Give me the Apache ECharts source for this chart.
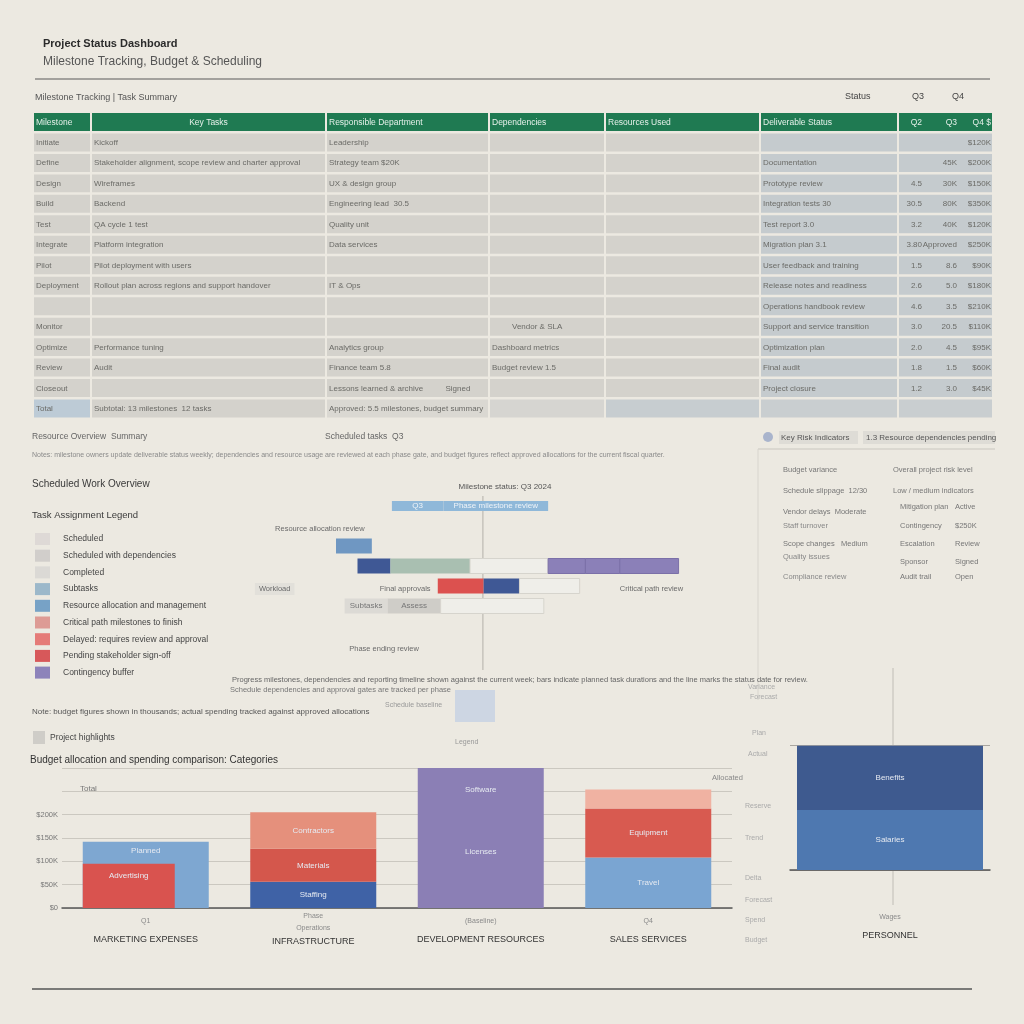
<!DOCTYPE html>
<html><head><meta charset="utf-8">
<script src="https://cdn.jsdelivr.net/npm/echarts@6/dist/echarts.min.js"></script>
<style>html,body{margin:0;padding:0;background:#ece9e1;}#c{width:1024px;height:1024px;}</style>
</head><body><div id="c"></div>
<script>
const FONT = '"Liberation Sans Narrow","Liberation Sans",Arial,sans-serif';

// ---------- TABLE DATA ----------
const tableHeader = ['Milestone','Key Tasks','Responsible Department','Dependencies','Resources Used','Deliverable Status','Q2','Q3','Q4 $'];
const tableRows = [
  ['Initiate','Kickoff','Leadership','','','','','','$120K'],
  ['Define','Stakeholder alignment, scope review and charter approval','Strategy team $20K','','','Documentation','','45K','$200K'],
  ['Design','Wireframes','UX & design group','','','Prototype review','4.5','30K','$150K'],
  ['Build','Backend','Engineering lead  30.5','','','Integration tests 30','30.5','80K','$350K'],
  ['Test','QA cycle 1 test','Quality unit','','','Test report 3.0','3.2','40K','$120K'],
  ['Integrate','Platform integration','Data services','','','Migration plan 3.1','3.80','Approved','$250K'],
  ['Pilot','Pilot deployment with users','','','','User feedback and training','1.5','8.6','$90K'],
  ['Deployment','Rollout plan across regions and support handover','IT & Ops','','','Release notes and readiness','2.6','5.0','$180K'],
  ['','','','','','Operations handbook review','4.6','3.5','$210K'],
  ['Monitor','','','         Vendor & SLA','','Support and service transition','3.0','20.5','$110K'],
  ['Optimize','Performance tuning','Analytics group','Dashboard metrics','','Optimization plan','2.0','4.5','$95K'],
  ['Review','Audit','Finance team 5.8','Budget review 1.5','','Final audit','1.8','1.5','$60K'],
  ['Closeout','','Lessons learned & archive          Signed','','','Project closure','1.2','3.0','$45K'],
  ['Total','Subtotal: 13 milestones  12 tasks','Approved: 5.5 milestones, budget summary','','','','','','']
];

// ---------- GANTT DATA ----------
const ganttRowNames = ['Milestone','Resource','Planning','Execution','Approvals','Subtasks','','Phase end',''];
const ganttStart = [3.9, 7.5, 0, 1.5, 3.8, 9.35, 14.8, 17.4, 19.8, 7.1, 10.3, 12.8, 0.6, 3.6, 7.3];
const ganttEnd   = [7.5, 14.8, 2.5, 3.8, 9.35, 14.8, 17.4, 19.8, 23.9, 10.3, 12.8, 17.0, 3.6, 7.3, 14.5];
const ganttRow   = [0, 0, 2, 3, 3, 3, 3, 3, 3, 4, 4, 4, 5, 5, 5];
const ganttKind  = ['light','light','blue','navy','sage','open','purple','purple','purple','red','navy','open','pale','gray','open'];
const ganttLabel = ['Q3','Phase milestone review','','','','','','','','','','','Subtasks','Assess',''];
const statusWeek = 10.25;
const annoWeek  = [2.0, -2.9, 6.6, 19.8, 3.35];
const annoRow   = [1, 4, 4, 4, 7];
const annoText  = ['Resource allocation review','Workload','Final approvals','Critical path review','Phase ending review'];
const annoAlign = ['right','right','right','left','center'];

// ---------- LEGEND ----------
const legendNames = ['Scheduled','Scheduled with dependencies','Completed','Subtasks','Resource allocation and management','Critical path milestones to finish','Delayed: requires review and approval','Pending stakeholder sign-off','Contingency buffer'];
const legendColors = ['#ded9d6','#d1cecb','#dbd9d5','#9cb8ca','#77a2c6','#dd9b95','#e57b78','#d7585a','#8d83ba'];

// ---------- BUDGET DATA ($K) ----------
const budgetCategories = ['MARKETING EXPENSES','INFRASTRUCTURE','DEVELOPMENT RESOURCES','SALES SERVICES'];
const budgetCatNotes = ['Q1','Phase\nOperations','(Baseline)','Q4'];
const budgetTicks = ['$0','$50K','$100K','$150K','$200K'];
const actualValues = [95, '-', '-', '-'];
const baseValues   = [142, 56, 300, 108];
const midValues    = ['-', 71, '-', 105];
const topValues    = ['-', 78, '-', 41];
const actualLabels = ['Advertising'];
const baseLabels   = ['Planned','Staffing','Software\nLicenses','Travel'];
const midLabels    = ['','Materials','','Equipment'];
const topLabels    = ['','Contractors','',''];
const personnelCat = ['PERSONNEL'];
const personnelNote = ['Wages'];
const salariesValues = [144];
const benefitsValues = [154];

// ---------- COLORS / LAYOUT ----------
const kindColor = {light:'#8fb8d9',blue:'#6f97c2',navy:'#3f5895',sage:'#a9bfb1',open:'#efeee9',purple:'#8b80b8',red:'#dc514f',pale:'#dcdad5',gray:'#cfcdc8'};
const baseColors = ['#7ea7d1','#3f62a6','#8b7fb5','#7aa5d2'];
const midColors  = ['#d9534f','#d4574c','#d9534f','#d85a50'];
const topColors  = ['#e5907c','#e5907c','#e5907c','#f0b2a2'];
const colEdges = [0, 58, 293, 456, 572, 727, 865, 960];
const qAnchors = [889, 924, 958];
const footerFills = ['#bdcbd6','#d4d2cc','#dad8d2','#d6d5d1','#c7cdd0','#c9ced0','#c9ced0'];

// build table cells
const allRows = [tableHeader].concat(tableRows);
const cells = [];
allRows.forEach((row, r) => {
  for (let c = 0; c < 7; c++) {
    let fill = r === 0 ? '#1f7a52' : (r === allRows.length - 1 ? footerFills[c] : (c >= 5 ? '#c5cbce' : '#d4d2cc'));
    const texts = [];
    if (c < 6) {
      if (row[c]) {
        if (r === 0 && c === 1) texts.push({s: row[c], at: (colEdges[1] + colEdges[2]) / 2, align: 'center', w: 0});
        else texts.push({s: row[c], at: colEdges[c] + 3, align: 'left', w: colEdges[c + 1] - colEdges[c] - 6});
      }
    } else {
      for (let q = 0; q < 3; q++) if (row[6 + q]) texts.push({s: row[6 + q], at: qAnchors[q], align: 'right', w: 0});
    }
    cells.push({r, c, x0: colEdges[c], x1: colEdges[c + 1], fill, texts});
  }
});

const chart = echarts.init(document.getElementById('c'), null, {renderer: 'canvas'});

const T = (x, y, s, size, color, weight, align) => ({type:'text', x, y, silent:true,
  style:{text:s, font:`${weight||'normal'} ${size}px ${FONT}`, fill:color, align:align||'left', verticalAlign:'middle'}});
const L = (x1, y1, x2, y2, color, w) => ({type:'line', silent:true, shape:{x1,y1,x2,y2}, style:{stroke:color, lineWidth:w||1}});

const graphics = [
  L(35, 79, 990, 79, '#5a5a5a', 1.2),
  L(32, 989, 972, 989, '#555', 1.5),
  L(758, 449, 995, 449, '#c9c6bf', 1),
  L(758, 449, 758, 700, '#d8d5ce', 1),
  L(893, 668, 893, 905, '#c0bdb6', 1),
  T(43, 44, 'Project Status Dashboard', 11, '#2b2b2b', 'bold'),
  T(43, 62, 'Milestone Tracking, Budget & Scheduling', 12, '#555'),
  T(35, 98, 'Milestone Tracking | Task Summary', 9, '#555'),
  T(845, 97, 'Status', 9, '#444'), T(912, 97, 'Q3', 9, '#444'), T(952, 97, 'Q4', 9, '#444'),
  T(32, 437, 'Resource Overview  Summary', 8.5, '#666'),
  T(325, 437, 'Scheduled tasks  Q3', 8.5, '#666'),
  T(32, 455, 'Notes: milestone owners update deliverable status weekly; dependencies and resource usage are reviewed at each phase gate, and budget figures reflect approved allocations for the current fiscal quarter.', 7, '#8a8a8a'),
  T(32, 484, 'Scheduled Work Overview', 10, '#3a3a3a'),
  T(32, 515, 'Task Assignment Legend', 9.5, '#3a3a3a'),
  T(505, 487, 'Milestone status: Q3 2024', 8, '#555', 'normal', 'center'),
  T(232, 680, 'Progress milestones, dependencies and reporting timeline shown against the current week; bars indicate planned task durations and the line marks the status date for review.', 7.5, '#666'),
  T(230, 690, 'Schedule dependencies and approval gates are tracked per phase', 7.5, '#777'),
  T(385, 705, 'Schedule baseline', 7, '#999'),
  {type:'rect', silent:true, shape:{x:455, y:690, width:40, height:32}, style:{fill:'#cdd6e3'}},
  T(455, 742, 'Legend', 7, '#999'),
  T(32, 712, 'Note: budget figures shown in thousands; actual spending tracked against approved allocations', 8, '#555'),
  {type:'rect', silent:true, shape:{x:33, y:731, width:12, height:13}, style:{fill:'#cfcdc8'}},
  T(50, 738, 'Project highlights', 8.5, '#444'),
  T(30, 760, 'Budget allocation and spending comparison: Categories', 10, '#333'),
  T(80, 789, 'Total', 8, '#777'),
  T(712, 778, 'Allocated', 7.5, '#888'),
  // right panel
  {type:'circle', silent:true, shape:{cx:768, cy:437, r:5}, style:{fill:'#a9b4cc'}},
  {type:'rect', silent:true, shape:{x:779, y:431, width:79, height:13}, style:{fill:'#dedcd6'}},
  T(781, 438, 'Key Risk Indicators', 8, '#555'),
  {type:'rect', silent:true, shape:{x:863, y:431, width:132, height:13}, style:{fill:'#dedcd6'}},
  T(866, 438, '1.3 Resource dependencies pending', 8, '#555'),
  T(783, 470, 'Budget variance', 7.5, '#777'), T(893, 470, 'Overall project risk level', 7.5, '#777'),
  T(783, 491, 'Schedule slippage  12/30', 7.5, '#777'), T(893, 491, 'Low / medium indicators', 7.5, '#777'),
  T(783, 512, 'Vendor delays  Moderate', 7.5, '#777'), T(900, 507, 'Mitigation plan', 7.5, '#777'), T(955, 507, 'Active', 7.5, '#777'),
  T(783, 526, 'Staff turnover', 7.5, '#888'), T(900, 526, 'Contingency', 7.5, '#777'), T(955, 526, '$250K', 7.5, '#777'),
  T(783, 544, 'Scope changes   Medium', 7.5, '#777'), T(900, 544, 'Escalation', 7.5, '#777'), T(955, 544, 'Review', 7.5, '#777'),
  T(783, 557, 'Quality issues', 7.5, '#888'), T(900, 562, 'Sponsor', 7.5, '#777'), T(955, 562, 'Signed', 7.5, '#777'),
  T(783, 577, 'Compliance review', 7.5, '#888'), T(900, 577, 'Audit trail', 7.5, '#777'), T(955, 577, 'Open', 7.5, '#777'),
  // faded side notes
  T(748, 687, 'Variance', 7, '#aaa'), T(750, 697, 'Forecast', 7, '#aaa'),
  T(752, 733, 'Plan', 7, '#aaa'), T(748, 754, 'Actual', 7, '#aaa'),
  T(745, 806, 'Reserve', 7, '#aaa'), T(745, 838, 'Trend', 7, '#aaa'),
  T(745, 878, 'Delta', 7, '#aaa'), T(745, 900, 'Forecast', 7, '#aaa'), T(745, 920, 'Spend', 7, '#aaa'), T(745, 940, 'Budget', 7, '#aaa')
];
legendNames.forEach((n, i) => {
  const y = 539 + i * 16.7;
  graphics.push({type:'rect', silent:true, shape:{x:35, y:y-6, width:15, height:12}, style:{fill:legendColors[i]}});
  graphics.push(T(63, y, n, 8.5, '#444'));
});

const catLabelRich = {
  s: {fontSize: 7, color: '#8a8a8a', lineHeight: 12, fontFamily: FONT},
  S: {fontSize: 7, color: '#8a8a8a', lineHeight: 22, fontFamily: FONT},
  m: {fontSize: 9, color: '#333', lineHeight: 16, fontFamily: FONT}
};
const noteFormatter = (notes) => (v, i) => {
  const parts = notes[i].split('\n');
  const st = parts.length > 1 ? 's' : 'S';
  return parts.map(s => `{${st}|${s}}`).join('\n') + `\n{m|${v}}`;
};
const barLabel = {show: true, color: '#e6eaf1', fontSize: 8, fontFamily: FONT};

const option = {
  backgroundColor: '#ece9e1',
  animation: false,
  textStyle: {fontFamily: FONT},
  graphic: graphics,
  grid: [
    {left: 33, top: 112, width: 960, height: 307},
    {left: 336, top: 496, width: 344, height: 180},
    {left: 62, top: 768, width: 670, height: 140},
    {left: 790, top: 745, width: 200, height: 125}
  ],
  xAxis: [
    {gridIndex: 0, type: 'value', min: 0, max: 960, show: false},
    {gridIndex: 1, type: 'value', min: 0, max: 24, show: false},
    {gridIndex: 2, type: 'category', data: budgetCategories,
      axisLine: {lineStyle: {color: '#555', width: 1.5}}, axisTick: {show: false},
      axisLabel: {interval: 0, margin: 2, rich: catLabelRich, formatter: noteFormatter(budgetCatNotes)}},
    {gridIndex: 3, type: 'category', data: personnelCat,
      axisLine: {lineStyle: {color: '#555', width: 1.5}}, axisTick: {show: false},
      axisLabel: {interval: 0, margin: 36, rich: catLabelRich, formatter: noteFormatter(personnelNote)}}
  ],
  yAxis: [
    {gridIndex: 0, type: 'category', data: allRows.map((r, i) => 'r' + i), inverse: true, show: false},
    {gridIndex: 1, type: 'category', data: ganttRowNames.map((n, i) => n + i), inverse: true, show: false},
    {gridIndex: 2, type: 'value', min: 0, max: 300, interval: 50,
      axisLine: {show: false}, axisTick: {show: false},
      splitLine: {lineStyle: {color: '#cbc8c0'}},
      axisLabel: {color: '#777', fontSize: 7.5, margin: 4, formatter: (v) => budgetTicks[v / 50] || ''}},
    {gridIndex: 3, type: 'value', min: 0, max: 300, interval: 300,
      axisLine: {show: false}, axisTick: {show: false}, axisLabel: {show: false},
      splitLine: {lineStyle: {color: '#a9a6a0'}}}
  ],
  series: [
    // table
    {type: 'custom', xAxisIndex: 0, yAxisIndex: 0, data: cells.map(c => [c.x0, c.x1, c.r]),
      renderItem: (params, api) => {
        const cell = cells[params.dataIndex];
        const a = api.coord([cell.x0, cell.r]);
        const b = api.coord([cell.x1, cell.r]);
        const h = api.size([0, 1])[1];
        const top = a[1] - h / 2;
        const head = cell.r === 0;
        const children = [{type: 'rect', shape: {x: a[0] + 1, y: top + 1, width: b[0] - a[0] - 2, height: h - 2.5},
          style: {fill: cell.fill}}];
        cell.texts.forEach(t => {
          const px = api.coord([t.at, cell.r])[0];
          const st = {text: t.s, fill: head ? '#e6f1ea' : '#6b6b67', font: `${head ? 8.5 : 8}px ${FONT}`,
              align: t.align, verticalAlign: 'middle'};
          if (t.w) { st.width = t.w; st.overflow = 'truncate'; st.ellipsis = ''; }
          children.push({type: 'text', x: px, y: a[1], style: st});
        });
        return {type: 'group', children};
      }},
    // gantt status line
    {type: 'custom', xAxisIndex: 1, yAxisIndex: 1, z: 1, data: [[statusWeek]],
      renderItem: (params, api) => {
        const cs = params.coordSys;
        const x = api.coord([api.value(0), 0])[0];
        return {type: 'line', shape: {x1: x, y1: cs.y, x2: x, y2: cs.y + cs.height - 6},
          style: {stroke: '#b3b0aa', lineWidth: 1}};
      }},
    // gantt bars
    {type: 'custom', xAxisIndex: 1, yAxisIndex: 1, z: 3,
      data: ganttStart.map((s, i) => [s, ganttEnd[i], ganttRow[i]]),
      renderItem: (params, api) => {
        const i = params.dataIndex;
        const s = api.coord([api.value(0), api.value(2)]);
        const e = api.coord([api.value(1), api.value(2)]);
        const h = api.value(2) === 0 ? 10 : 15;
        const kind = ganttKind[i];
        const children = [{type: 'rect', shape: {x: s[0], y: s[1] - h / 2, width: e[0] - s[0], height: h},
          style: {fill: kindColor[kind], stroke: kind === 'open' ? '#d6d4cd' : (kind === 'purple' ? '#7b70a8' : null), lineWidth: 1}}];
        if (ganttLabel[i]) children.push({type: 'text', x: (s[0] + e[0]) / 2, y: s[1],
          style: {text: ganttLabel[i], fill: kind === 'light' ? '#eef3f8' : '#777', font: `8px ${FONT}`, align: 'center', verticalAlign: 'middle'}});
        return {type: 'group', children};
      }},
    // gantt annotations
    {type: 'custom', xAxisIndex: 1, yAxisIndex: 1, z: 4, data: annoWeek.map((w, i) => [w, annoRow[i]]),
      renderItem: (params, api) => {
        const i = params.dataIndex;
        const p = api.coord([api.value(0), api.value(1)]);
        return {type: 'text', x: p[0], y: p[1] + 3,
          style: {text: annoText[i], fill: '#6a6a6a', font: `7.5px ${FONT}`, align: annoAlign[i], verticalAlign: 'middle',
            backgroundColor: i === 1 ? '#e2e0da' : null, padding: i === 1 ? [2, 4] : 0}};
      }},
    // budget: overlay actual (listed first so it left-aligns with the main stack)
    {name: 'Actual', type: 'bar', xAxisIndex: 2, yAxisIndex: 2, stack: 'ov', z: 3, barWidth: 92, barGap: '-100%',
      data: actualValues, itemStyle: {color: '#d9534f'},
      label: Object.assign({}, barLabel, {position: 'insideTop', distance: 8, formatter: p => actualLabels[p.dataIndex] || ''})},
    {name: 'Base', type: 'bar', xAxisIndex: 2, yAxisIndex: 2, stack: 'main', barWidth: 126, barGap: '-100%',
      data: baseValues.map((v, i) => ({value: v, itemStyle: {color: baseColors[i]},
        label: i === 2 ? {position: ['50%', 53], align: 'center', verticalAlign: 'middle', lineHeight: 62}
             : (i === 0 ? {position: 'insideTop', distance: 5} : {position: 'inside'})})),
      label: Object.assign({}, barLabel, {formatter: p => baseLabels[p.dataIndex] || ''})},
    {name: 'Mid', type: 'bar', xAxisIndex: 2, yAxisIndex: 2, stack: 'main', barGap: '-100%',
      data: midValues.map((v, i) => ({value: v, itemStyle: {color: midColors[i]}})),
      label: Object.assign({}, barLabel, {position: 'inside', formatter: p => midLabels[p.dataIndex] || ''})},
    {name: 'Top', type: 'bar', xAxisIndex: 2, yAxisIndex: 2, stack: 'main', barGap: '-100%',
      data: topValues.map((v, i) => ({value: v, itemStyle: {color: topColors[i]}})),
      label: Object.assign({}, barLabel, {position: 'inside', formatter: p => topLabels[p.dataIndex] || ''})},
    // personnel
    {name: 'Salaries', type: 'bar', xAxisIndex: 3, yAxisIndex: 3, stack: 'p', barWidth: 186,
      data: salariesValues, itemStyle: {color: '#4e78b0'},
      label: Object.assign({}, barLabel, {position: 'inside', formatter: 'Salaries'})},
    {name: 'Benefits', type: 'bar', xAxisIndex: 3, yAxisIndex: 3, stack: 'p',
      data: benefitsValues, itemStyle: {color: '#3e5a8f'},
      label: Object.assign({}, barLabel, {position: 'inside', formatter: 'Benefits'})}
  ]
};
chart.setOption(option);
</script>
</body></html>
